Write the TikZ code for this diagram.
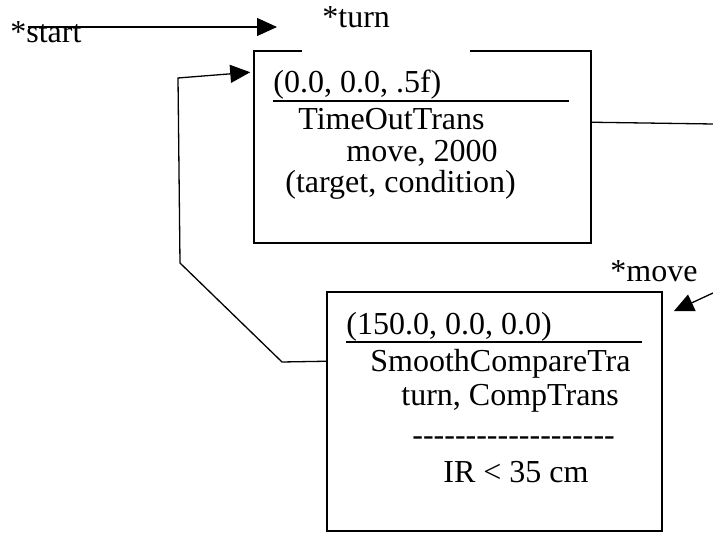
\documentclass[tikz,border=0pt]{standalone}
\usepackage{fontspec}
\setmainfont{Liberation Serif}
\usetikzlibrary{arrows.meta}
\def\hy{-\kern0pt}
\tikzset{state/.style={draw, line width=0.75pt, inner sep=0pt}}
\tikzset{trans/.style={line width=0.65pt, -{Triangle[length=10pt,width=9pt]}}}
\tikzset{txt/.style={anchor=base west, inner sep=0pt, font=\fontsize{16}{19}\selectfont}}

\begin{document}
\begin{tikzpicture}[x=0.5pt, y=-0.5pt]
  \useasboundingbox (0,0) rectangle (713,533);
  % States
  \node[state, minimum width=168.5pt, minimum height=96pt] (turnbox) at (422.5,147) {};
  \node[state, minimum width=167.5pt, minimum height=119.5pt] (movebox) at (494.5,411.5) {};

  % Labels
  \node[txt] (start) at (10,43) {*start};
  \node[txt, fill=white, inner xsep=10pt, inner ysep=12.5pt, text depth=0pt, text width=64pt] (turn) at (302,28) {*turn};
  \node[txt] (move) at (610,282) {*move};

  % turn state
  \node[txt] (turnpos) at (273,93) {(0.0, 0.0, .5f)};
  \node[txt] (turnt1) at (298,130) {TimeOutTrans};
  \node[txt] (turnt2) at (346,162) {move, 2000};
  \node[txt] (turnt3) at (285,193) {(target, condition)};
  \draw[line width=0.75pt] (273,101) -- (569,101);

  % move state
  \node[txt] (movepos) at (346,335) {(150.0, 0.0, 0.0)};
  \node[txt] (movet1) at (370,372) {SmoothCompareTra};
  \node[txt] (movet2) at (401,406) {turn, CompTrans};
  \node[txt] (movedash) at (412,446) {\hy\hy\hy\hy\hy\hy\hy\hy\hy\hy\hy\hy\hy\hy\hy\hy\hy\hy\hy};
  \node[txt] (movecond) at (443,483) {IR < 35 cm};
  \draw[line width=0.75pt] (346,342) -- (642,342);

  % Transitions
  \coordinate (startfrom) at (28,27);
  \coordinate (startto) at (277,27);
  \draw[trans] (startfrom) -- (startto);
  \draw[trans] ([yshift=-35pt]movebox.north west) -- (282,362) -- (180,263) -- (178,78)
    -- ([xshift=-1.5pt,yshift=-11pt]turnbox.north west);
  \coordinate (outR) at (713,124);
  \draw[line width=0.65pt] ([yshift=-36pt]turnbox.north east) -- (outR);
  \coordinate (inR) at (713,293);
  \draw[trans] (inR) -- ([xshift=5.5pt,yshift=-10pt]movebox.north east);
\end{tikzpicture}
\end{document}
